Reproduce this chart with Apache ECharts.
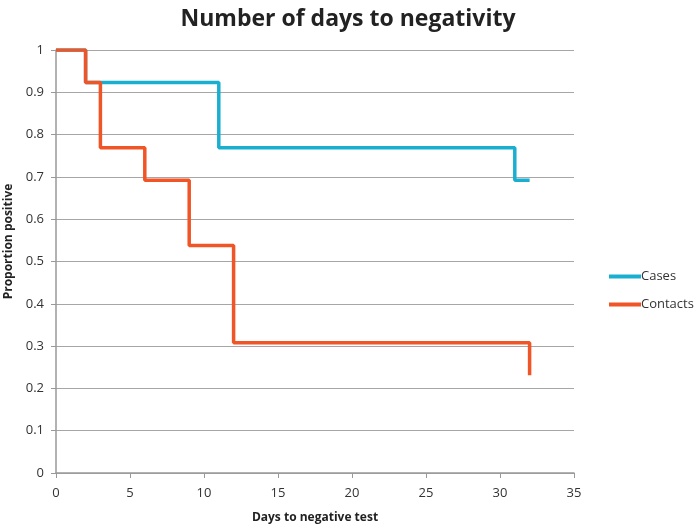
<!DOCTYPE html>
<html><head><meta charset="utf-8">
<script src="https://cdn.jsdelivr.net/npm/echarts@6/dist/echarts.min.js"></script>
<style>html,body{margin:0;padding:0;background:#fff}#c{width:696px;height:527px}</style>
</head><body><div id="c"></div>
<script>
const titleText = "Number of days to negativity";
const seriesNames = ["Cases", "Contacts"];
const casesDays = [0, 2, 11, 31, 32];
const casesProp = [1, 0.923, 0.769, 0.692, 0.692];
const contactsDays = [0, 2, 3, 6, 9, 12, 32, 32];
const contactsProp = [1, 0.923, 0.769, 0.692, 0.538, 0.308, 0.308, 0.231];
const xName = "Days to negative test";
const yName = "Proportion positive";

const font = "'Open Sans', 'Liberation Sans', sans-serif";
const chart = echarts.init(document.getElementById('c'), null, {renderer: 'canvas'});
const pairs = (xs, ys) => xs.map((x, i) => [x, ys[i]]);
chart.setOption({
  animation: false,
  title: {text: titleText, left: 'center', top: 3,
    textStyle: {fontFamily: font, fontWeight: 'bold', fontSize: 23, color: '#222'}},
  grid: {left: 56, right: 122, top: 50, bottom: 54, outerBoundsMode: 'none', containLabel: false},
  legend: {orient: 'vertical', left: 604, top: 265, itemGap: 15, itemWidth: 32, itemHeight: 4,
    icon: 'rect',
    textStyle: {fontFamily: font, fontSize: 13, color: '#333', padding: [0,0,0,-5]},
    data: seriesNames},
  xAxis: {type: 'value', min: 0, max: 35, interval: 5,
    name: xName, nameLocation: 'middle', nameGap: 39,
    nameTextStyle: {fontFamily: font, fontWeight: 'bold', fontSize: 12, color: '#222'},
    axisLine: {show: true, lineStyle: {color: '#999', width: 1.5}},
    axisTick: {show: true, length: 5, lineStyle: {color: '#999'}},
    axisLabel: {fontFamily: font, fontSize: 13, color: '#333', margin: 14},
    splitLine: {show: false}},
  yAxis: {type: 'value', min: 0, max: 1, interval: 0.1,
    name: yName, nameLocation: 'middle', nameGap: 41,
    nameTextStyle: {fontFamily: font, fontWeight: 'bold', fontSize: 12, color: '#222',
      padding: [0, 0, 0, 40]},
    axisLine: {show: true, lineStyle: {color: '#999', width: 1.5}},
    axisTick: {show: true, length: 5, lineStyle: {color: '#999'}},
    axisLabel: {fontFamily: font, fontSize: 13, color: '#333', margin: 12,
      formatter: v => String(+v.toFixed(1))},
    splitLine: {show: true, lineStyle: {color: '#a6a6a6', width: 1.2}}},
  series: [
    {name: seriesNames[0], type: 'line', step: 'end', symbol: 'none',
      data: pairs(casesDays, casesProp),
      lineStyle: {color: '#1aafd0', width: 3.5}, itemStyle: {color: '#1aafd0'}},
    {name: seriesNames[1], type: 'line', step: 'end', symbol: 'none',
      data: pairs(contactsDays, contactsProp),
      lineStyle: {color: '#ef5527', width: 3.5}, itemStyle: {color: '#ef5527'}}
  ]
});
</script></body></html>
